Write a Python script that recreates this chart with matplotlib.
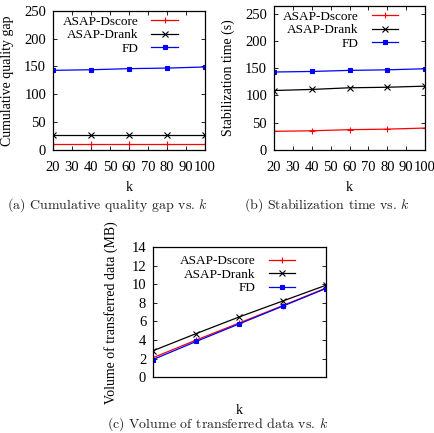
import matplotlib
matplotlib.use("Agg")
import matplotlib.pyplot as plt

k = [20, 40, 60, 80, 100]
xticks = [20, 30, 40, 50, 60, 70, 80, 90, 100]
series = ["ASAP-Dscore", "ASAP-Drank", "FD"]

gap_dscore = [10, 10, 10, 10, 10]
gap_drank = [27, 27, 27, 27, 27]
gap_fd = [143, 144, 146, 147, 149]

stab_dscore = [34, 35, 37, 38, 40]
stab_drank = [109, 111, 114, 115, 117]
stab_fd = [143, 144, 146, 147, 149]

vol_dscore = [2.1, 4.0, 5.85, 7.7, 9.6]
vol_drank = [2.85, 4.7, 6.5, 8.2, 9.9]
vol_fd = [1.9, 3.85, 5.75, 7.65, 9.55]

plt.rcParams['font.family'] = ['Liberation Serif', 'DejaVu Serif']
plt.rcParams['mathtext.fontset'] = 'cm'

colors = ['#ff0000', '#000000', '#0000ff']
markers = ['+', 'x', 's']
msizes = [5, 4, 3]

fig = plt.figure(figsize=(4.35, 4.33), dpi=100)

def style(ax, ylim, yticks, show_x=True):
    ax.set_xlim(20, 100)
    ax.set_ylim(*ylim)
    ax.set_yticks(yticks)
    ax.set_xticks(xticks)
    ax.tick_params(direction='in', top=True, right=True, labelsize=10.5, length=3, width=0.6)
    ax.tick_params(axis='x', pad=8)
    ax.tick_params(axis='y', pad=5)
    if not show_x:
        ax.set_xticklabels([])
        ax.tick_params(axis='x', length=0)
    for s in ax.spines.values():
        s.set_linewidth(0.9)

def draw(ax, ys, top):
    for name, y, c, m, ms in zip(series, ys, colors, markers, msizes):
        ax.plot(k, y, color=c, marker=m, markersize=ms, lw=0.9, mew=0.8, label=name)
    ax.legend(loc='upper right', markerfirst=False, frameon=False, fontsize=9.5,
              handlelength=2.0, labelspacing=0.1, borderaxespad=0.0, borderpad=0.0,
              handletextpad=1.0, bbox_to_anchor=(0.822, top))

ax1 = fig.add_axes([0.122, 0.654, 0.349, 0.321])
draw(ax1, [gap_dscore, gap_drank, gap_fd], 0.965)
style(ax1, (0, 250), [0, 50, 100, 150, 200, 250])
ax1.set_ylabel("Cumulative quality gap", fontsize=10, labelpad=7)
ax1.set_xlabel("k", fontsize=10, labelpad=5)

ax2 = fig.add_axes([0.630, 0.654, 0.347, 0.333])
draw(ax2, [stab_dscore, stab_drank, stab_fd], 0.965)
style(ax2, (0, 265), [0, 50, 100, 150, 200, 250])
ax2.set_ylabel("Stabilization time (s)", fontsize=10, labelpad=7)
ax2.set_xlabel("k", fontsize=10, labelpad=5)

ax3 = fig.add_axes([0.352, 0.129, 0.397, 0.300])
draw(ax3, [vol_dscore, vol_drank, vol_fd], 0.94)
style(ax3, (0, 14), [0, 2, 4, 6, 8, 10, 12, 14], show_x=False)
ax3.set_ylabel("Volume of transferred data (MB)", fontsize=10, labelpad=10)
ax3.set_xlabel("k", fontsize=10, labelpad=11)

cap_kw = dict(fontsize=10, family='cmr10', ha='center', va='center', color='#222222')
fig.text(107/435, 1 - 205/433, r"(a) Cumulative quality gap vs. $k$", **cap_kw)
fig.text(327/435, 1 - 205/433, r"(b) Stabilization time vs. $k$", **cap_kw)
fig.text(218/435, 1 - 424/433, r"(c) Volume of transferred data vs. $k$", **cap_kw)

fig.savefig("out.png", dpi=100)
